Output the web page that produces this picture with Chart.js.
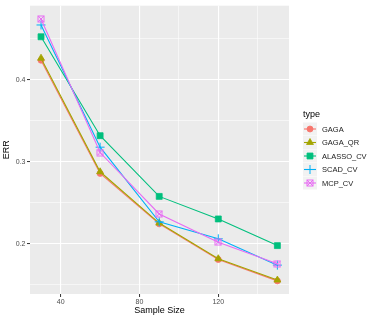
<!DOCTYPE html>
<html>
<head>
<meta charset="utf-8">
<script src="https://cdn.jsdelivr.net/npm/chart.js@4.4.0/dist/chart.umd.min.js"></script>
<style>
  html, body { margin: 0; padding: 0; background: #ffffff; }
  #wrap { position: relative; width: 374px; height: 319px; }
</style>
</head>
<body>
<div id="wrap"><canvas id="c" width="374" height="319"></canvas></div>
<script>
// ---- data ----
const sampleSizes = [30, 60, 90, 120, 150];
const seriesNames = ["GAGA", "GAGA_QR", "ALASSO_CV", "SCAD_CV", "MCP_CV"];
const gaga     = [0.424, 0.286, 0.2245, 0.181, 0.155];
const gagaQR   = [0.4265, 0.288, 0.2255, 0.182, 0.156];
const alasso   = [0.4526, 0.332, 0.258, 0.2305, 0.198];
const scad     = [0.467, 0.318, 0.227, 0.2063, 0.1742];
const mcp      = [0.4744, 0.3115, 0.2366, 0.2022, 0.1758];
const xTicks = [40, 60, 80, 100, 120, 140];
const yTicks = [0.15, 0.2, 0.25, 0.3, 0.35, 0.4, 0.45];
const xTitle = "Sample Size";
const yTitle = "ERR";
const legendTitle = "type";

// ---- styles ----
const colors = ["#F8766D", "#A3A500", "#00BF7D", "#00B0F6", "#E76BF3"];
const FONT = "'Liberation Sans', Arial, Helvetica, sans-serif";

function makeSquareCross(color) {
  const cv = document.createElement('canvas');
  cv.width = 8; cv.height = 8;
  const g = cv.getContext('2d');
  g.strokeStyle = color; g.lineWidth = 1;
  g.strokeRect(1, 1, 6, 6);
  g.beginPath();
  g.moveTo(1, 1); g.lineTo(7, 7);
  g.moveTo(7, 1); g.lineTo(1, 7);
  g.stroke();
  return cv;
}
const mcpPoint = makeSquareCross(colors[4]);

const pointStyles = ['circle', 'triangle', 'rect', 'cross', mcpPoint];
const pointRadii = [3, 4, 4.2, 4.5, 4];
const seriesValues = [gaga, gagaQR, alasso, scad, mcp];

const datasets = seriesNames.map((name, i) => ({
  label: name,
  data: sampleSizes.map((x, j) => ({ x: x, y: seriesValues[i][j] })),
  borderColor: colors[i],
  backgroundColor: colors[i],
  borderWidth: 1.1,
  pointStyle: pointStyles[i],
  pointRadius: pointRadii[i],
  pointBorderWidth: i === 3 ? 1 : 0.8,
  pointBackgroundColor: colors[i],
  pointBorderColor: colors[i],
  fill: false,
  tension: 0,
  order: 5 - i
}));

const isMajorX = v => Math.abs(v % 40) < 1e-6;
const isMajorY = v => Math.abs(v * 10 - Math.round(v * 10)) < 1e-6;

const bgPlugin = {
  id: 'panelBg',
  beforeDraw(chart) {
    const { ctx, chartArea: a } = chart;
    ctx.save();
    ctx.fillStyle = '#EBEBEB';
    ctx.fillRect(a.left, a.top, a.right - a.left, a.bottom - a.top);
    ctx.restore();
  }
};

const legendPlugin = {
  id: 'ggLegend',
  afterDraw(chart) {
    const ctx = chart.ctx;
    ctx.save();
    ctx.textBaseline = 'middle';
    ctx.textAlign = 'left';
    ctx.fillStyle = '#000000';
    ctx.font = '9px ' + FONT;
    ctx.fillText(legendTitle, 303, 115);
    const x0 = 303, w = 14, h = 13, y0 = 129, step = 13.5;
    seriesNames.forEach((name, i) => {
      const cy = y0 + i * step;
      ctx.fillStyle = '#F2F2F2';
      ctx.fillRect(x0, cy - h / 2, w, h);
      ctx.strokeStyle = colors[i];
      ctx.lineWidth = 1.1;
      ctx.beginPath();
      ctx.moveTo(x0 + 1, cy); ctx.lineTo(x0 + w - 1, cy);
      ctx.stroke();
      ctx.fillStyle = colors[i];
      ctx.strokeStyle = colors[i];
      ctx.lineWidth = i === 3 ? 1 : 0.8;
      Chart.helpers.drawPoint(ctx, {
        pointStyle: pointStyles[i], radius: pointRadii[i], rotation: 0, borderWidth: ctx.lineWidth
      }, x0 + w / 2, cy);
      ctx.fillStyle = '#1a1a1a';
      ctx.font = '7.5px ' + FONT;
      ctx.fillText(name, 322, cy + 0.5);
    });
    ctx.restore();
  }
};

new Chart(document.getElementById('c'), {
  type: 'line',
  data: { datasets: datasets },
  plugins: [bgPlugin, legendPlugin],
  options: {
    responsive: false,
    animation: false,
    events: [],
    layout: { padding: { top: 4, right: 85, left: 0, bottom: 0 } },
    plugins: { legend: { display: false }, tooltip: { enabled: false } },
    scales: {
      x: {
        type: 'linear',
        min: 24.4, max: 155.9,
        afterBuildTicks(scale) { scale.ticks = xTicks.map(v => ({ value: v })); },
        afterFit(scale) { scale.height = 25; },
        border: { display: false },
        grid: {
          color: '#FFFFFF',
          lineWidth: c => isMajorX(c.tick.value) ? 1.1 : 0.55,
          tickColor: c => isMajorX(c.tick.value) ? '#333333' : 'rgba(0,0,0,0)',
          tickLength: 3,
          tickWidth: 1
        },
        ticks: {
          autoSkip: false,
          maxRotation: 0,
          padding: 1,
          color: '#4D4D4D',
          font: { family: FONT, size: 7 },
          callback: v => isMajorX(v) ? String(v) : ''
        },
        title: {
          display: true, text: xTitle, color: '#000000',
          font: { family: FONT, size: 9 },
          padding: { top: 0, bottom: 2.6 }
        }
      },
      y: {
        type: 'linear',
        min: 0.139, max: 0.4905,
        afterBuildTicks(scale) { scale.ticks = yTicks.map(v => ({ value: v })); },
        afterFit(scale) { scale.width = 30; },
        border: { display: false },
        grid: {
          color: '#FFFFFF',
          lineWidth: c => isMajorY(c.tick.value) ? 1.1 : 0.55,
          tickColor: c => isMajorY(c.tick.value) ? '#333333' : 'rgba(0,0,0,0)',
          tickLength: 3,
          tickWidth: 1
        },
        ticks: {
          autoSkip: false,
          padding: 1.5,
          color: '#4D4D4D',
          font: { family: FONT, size: 7 },
          callback: v => isMajorY(v) ? v.toFixed(1) : ''
        },
        title: {
          display: true, text: yTitle, color: '#000000',
          font: { family: FONT, size: 9 },
          padding: { top: 1.6, bottom: 0 }
        }
      }
    }
  }
});
</script>
</body>
</html>
